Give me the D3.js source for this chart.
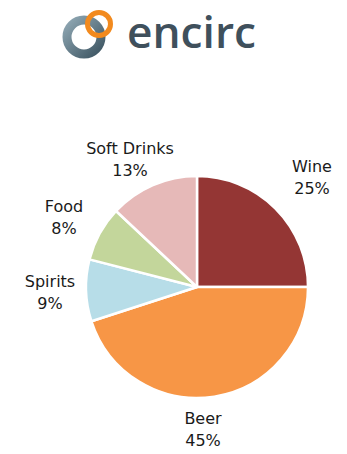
<!DOCTYPE html>
<html>
<head>
<meta charset="utf-8">
<script src="https://cdn.jsdelivr.net/npm/d3@7"></script>
<style>
  html, body { margin: 0; padding: 0; background: #fff; }
  svg { display: block; }
</style>
</head>
<body>
<svg id="chart" width="347" height="454"></svg>
<script>
// Share of sales by category
const categories = ["Wine", "Beer", "Spirits", "Food", "Soft Drinks"];
const shares = [25, 45, 9, 8, 13];
const colors = ["#943634", "#F79646", "#B7DDE8", "#C3D69B", "#E6B9B8"];
// Label anchor points (centre of the two-line label)
const labelPos = [[312, 176], [203, 428], [50, 291], [64, 216], [130, 158]];

const svg = d3.select("#chart");

// ---- brand mark ----
const logo = svg.append("g");
const grad = svg.append("defs").append("linearGradient")
  .attr("id", "ringGrad").attr("x1", "0").attr("y1", "0").attr("x2", "1").attr("y2", "1");
grad.append("stop").attr("offset", "0").attr("stop-color", "#8fa7b3");
grad.append("stop").attr("offset", "1").attr("stop-color", "#3e5663");
logo.append("circle").attr("cx", 84).attr("cy", 37).attr("r", 17)
  .attr("fill", "none").attr("stroke", "url(#ringGrad)").attr("stroke-width", 9);
logo.append("circle").attr("cx", 99).attr("cy", 24).attr("r", 11.5)
  .attr("fill", "none").attr("stroke", "#f28a1e").attr("stroke-width", 5);
logo.append("text").attr("x", 127).attr("y", 48)
  .attr("font-family", "'Open Sans', 'DejaVu Sans', sans-serif").attr("font-size", 43)
  .attr("font-weight", 600)
  .attr("textLength", 129).attr("lengthAdjust", "spacingAndGlyphs")
  .attr("fill", "#3f505c").text("encirc");

// ---- pie ----
const cx = 197, cy = 287, r = 111;
const pie = d3.pie().sort(null).value(d => d)(shares);
const arc = d3.arc().innerRadius(0).outerRadius(r);

svg.append("g").attr("transform", `translate(${cx},${cy})`)
  .selectAll("path").data(pie).join("path")
  .attr("d", arc)
  .attr("fill", (d, i) => colors[i])
  .attr("stroke", "#fff").attr("stroke-width", 2.5).attr("stroke-linejoin", "round");

const labels = svg.append("g")
  .attr("font-family", "'DejaVu Sans', sans-serif").attr("font-size", 16)
  .attr("fill", "#1a1a1a").attr("text-anchor", "middle");
categories.forEach((c, i) => {
  const [x, y] = labelPos[i];
  const t = labels.append("text").attr("x", x).attr("y", y);
  t.append("tspan").attr("x", x).attr("dy", "-0.25em").text(c);
  t.append("tspan").attr("x", x).attr("dy", "1.35em").text(shares[i] + "%");
});
</script>
</body>
</html>
